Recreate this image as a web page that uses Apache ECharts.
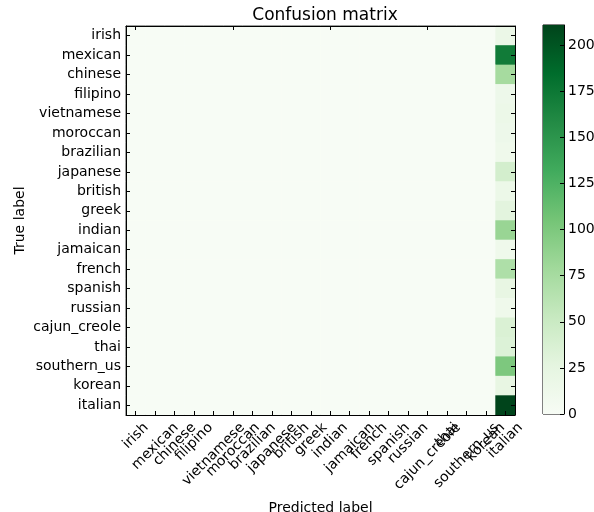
<!DOCTYPE html>
<html>
<head>
<meta charset="utf-8">
<script src="https://cdn.jsdelivr.net/npm/echarts@6/dist/echarts.min.js"></script>
<style>
html,body{margin:0;padding:0;background:#fff;}
#chart{width:594px;height:512px;}
</style>
</head>
<body>
<div id="chart"></div>
<script>
// ---- data ----
const categories = ['irish','mexican','chinese','filipino','vietnamese','moroccan','brazilian','japanese','british','greek','indian','jamaican','french','spanish','russian','cajun_creole','thai','southern_us','korean','italian'];
// counts predicted as "italian" (last column) per true label; all other predictions are 0
const predictedItalian = [18,172,76,14,16,14,12,42,16,28,84,12,70,22,12,36,34,100,22,211];
const predictedOther = 0;
const colorbarMax = 211;
const colorbarInterval = 25;
const greens = ['#f7fcf5','#e5f5e0','#c7e9c0','#a1d99b','#74c476','#41ab5d','#238b45','#006d2c','#00441b'];

const FONT = '"DejaVu Sans", sans-serif';
const FS = 14;

const cells = [];
categories.forEach((trueLab, i) => {
  categories.forEach((predLab, j) => {
    const v = (j === categories.length - 1) ? predictedItalian[i] : predictedOther;
    cells.push([j, i, v]);
  });
});

// rich styles to mimic matplotlib's centre-anchored rotated tick labels
const ctx = document.createElement('canvas').getContext('2d');
ctx.font = FS + 'px "DejaVu Sans"';
const rich = {};
categories.forEach((c, k) => {
  const w = ctx.measureText(c).width;
  const p = (w + FS * 1.1) / 2;
  rich['s' + k] = {padding: [p, p, 0, 0], fontSize: FS, fontFamily: FONT, color: '#000'};
});

const stops = greens.map((c, i) => ({offset: i / (greens.length - 1), color: c}));

const chart = echarts.init(document.getElementById('chart'), null, {renderer: 'canvas'});
const tick = {show: true, inside: true, length: 4, alignWithLabel: true, lineStyle: {color: '#000', width: 1}};
chart.setOption({
  animation: false,
  backgroundColor: '#fff',
  title: {
    text: 'Confusion matrix', left: 320, top: 2, textAlign: 'center',
    textStyle: {fontFamily: FONT, fontSize: 17, fontWeight: 'normal', color: '#000'}
  },
  grid: [
    {left: 126, top: 26, width: 389, height: 389, show: true, borderColor: '#000', borderWidth: 1, backgroundColor: 'transparent', containLabel: false, outerBoundsMode: 'none'},
    {left: 543, top: 25, width: 21, height: 389, show: true, borderColor: '#000', borderWidth: 1, backgroundColor: 'transparent', containLabel: false, outerBoundsMode: 'none'}
  ],
  xAxis: [
    {
      type: 'category', data: categories, gridIndex: 0, position: 'bottom', z: 5,
      axisLine: {show: true, lineStyle: {color: '#000'}}, axisTick: tick, splitLine: {show: false},
      axisLabel: {
        interval: 0, rotate: 45, align: 'center', verticalAlign: 'middle', margin: 5,
        fontFamily: FONT, fontSize: FS, color: '#000', rich: rich,
        formatter: (v, idx) => '{s' + idx + '|' + v + '}'
      },
      name: 'Predicted label', nameLocation: 'middle', nameGap: 86, nameMoveOverlap: false,
      nameTextStyle: {fontFamily: FONT, fontSize: FS, color: '#000'}
    },
    {
      type: 'category', data: categories, gridIndex: 0, position: 'top', z: 5,
      axisLine: {show: true, lineStyle: {color: '#000'}}, axisTick: tick, axisLabel: {show: false}, splitLine: {show: false}
    },
    {type: 'category', data: ['cb'], gridIndex: 1, show: false, boundaryGap: true}
  ],
  yAxis: [
    {
      type: 'category', data: categories, gridIndex: 0, inverse: true, position: 'left', z: 5,
      axisLine: {show: true, lineStyle: {color: '#000'}}, axisTick: tick, splitLine: {show: false},
      axisLabel: {interval: 0, margin: 5, fontFamily: FONT, fontSize: FS, color: '#000'},
      name: 'True label', nameLocation: 'middle', nameGap: 99, nameMoveOverlap: false,
      nameTextStyle: {fontFamily: FONT, fontSize: FS, color: '#000'}
    },
    {
      type: 'category', data: categories, gridIndex: 0, inverse: true, position: 'right', z: 5,
      axisLine: {show: true, lineStyle: {color: '#000'}}, axisTick: tick, axisLabel: {show: false}, splitLine: {show: false}
    },
    {
      type: 'value', gridIndex: 1, position: 'right', min: 0, max: colorbarMax, interval: colorbarInterval, z: 5,
      axisLine: {show: true, lineStyle: {color: '#000'}},
      axisTick: {show: true, inside: true, length: 4, lineStyle: {color: '#000'}},
      axisLabel: {margin: 4, fontFamily: FONT, fontSize: FS, color: '#000', showMaxLabel: false},
      splitLine: {show: false}
    }
  ],
  visualMap: {
    show: false, type: 'continuous', min: 0, max: colorbarMax, seriesIndex: 0,
    inRange: {color: greens}
  },
  series: [
    {
      type: 'heatmap', xAxisIndex: 0, yAxisIndex: 0, data: cells,
      itemStyle: {borderWidth: 0}, emphasis: {disabled: true}, silent: true, progressive: 0
    },
    {
      type: 'bar', xAxisIndex: 2, yAxisIndex: 2, data: [colorbarMax], barWidth: '100%', silent: true,
      itemStyle: {color: new echarts.graphic.LinearGradient(0, 1, 0, 0, stops)}
    }
  ]
});
</script>
</body>
</html>
